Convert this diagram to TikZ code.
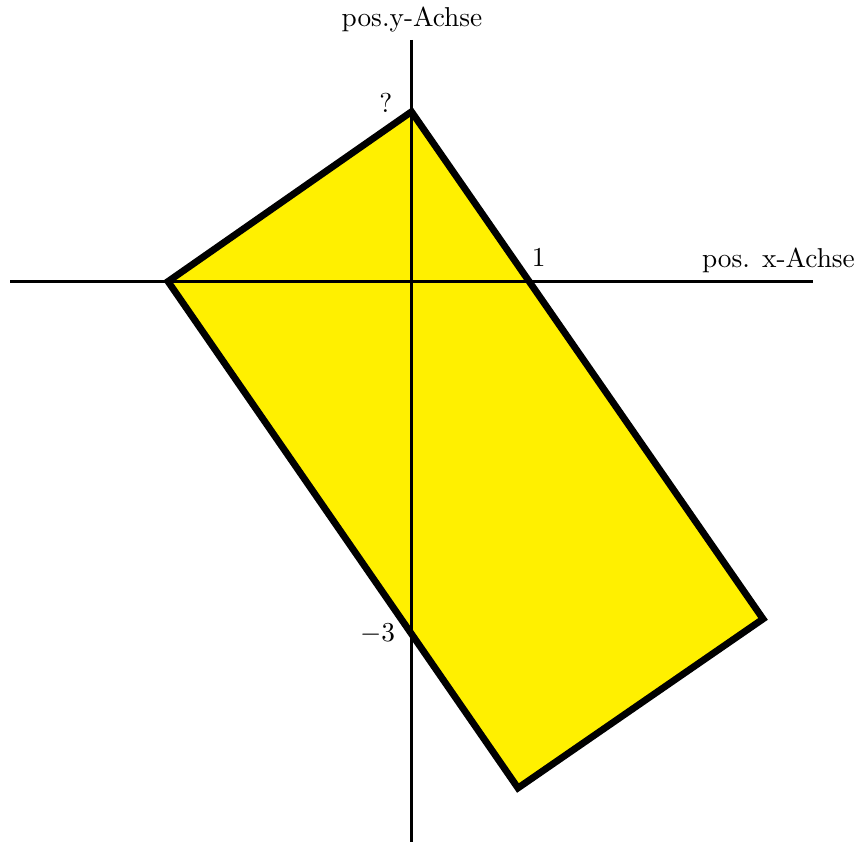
\documentclass[tikz,border=0pt]{standalone}
\usepackage{tikz}
\usetikzlibrary{positioning}
\definecolor{gelb}{RGB}{255,240,0}

\begin{document}
\begin{tikzpicture}[x=1.5cm, y=1.5cm,
  achse/.style={line width=1pt},
  rand/.style={line width=2.5pt, line join=miter},
  lbl/.style={inner sep=1pt}]
\useasboundingbox (-3.529,-4.807) rectangle (3.872,2.414);
\coordinate (L) at (-2.088,0);
\coordinate (T) at (0,1.456);
\coordinate (R) at (3.015,-2.894);
\coordinate (B) at (0.913,-4.344);
\coordinate (xl) at (-3.443,0); \coordinate (xr) at (3.443,0);
\coordinate (yt) at (0,2.071); \coordinate (yb) at (0,-4.807);
\fill[gelb] (L) -- (T) -- (R) -- (B) -- cycle;
\draw[achse] (xl) -- (xr);
\draw[achse] (yt) -- (yb);
\draw[rand] (L) -- (T) -- (R) -- (B) -- cycle;
\node[lbl] (ylab) at (0.004,2.243) {pos.y-Achse};
\node[lbl, anchor=south east] (xlab) at (3.83,0.05) {pos. x-Achse};
\node[lbl] (eins) at (1.09,0.21) {1};
\node[lbl] (frage) at (-0.22,1.53) {?};
\node[lbl] (minus3) at (-0.29,-3.02) {$-3$};
\end{tikzpicture}
\end{document}
